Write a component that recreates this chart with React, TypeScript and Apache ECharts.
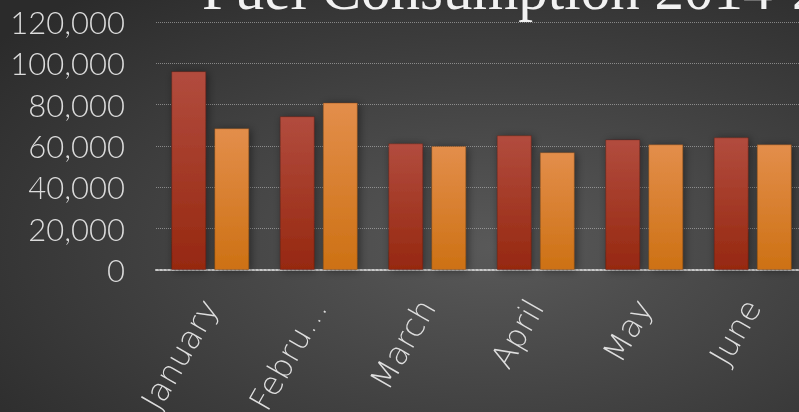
import React, { useEffect, useRef } from "react";
import * as echarts from "echarts";

const months = ["January", "February", "March", "April", "May", "June"];
const series2014 = [96200, 74400, 61300, 65200, 63200, 64200];
const series2015 = [68600, 81000, 60000, 57000, 60800, 60800];
const yTicks = { min: 0, max: 120000, interval: 20000 };
const titleText = "Fuel Consumption 2014-2015";

export default function App() {
  const ref = useRef<HTMLDivElement>(null);
  useEffect(() => {
    if (!ref.current) return;
    const chart = echarts.init(ref.current, undefined, { renderer: "svg" });
    const grad = (top: string, bottom: string) =>
      new echarts.graphic.LinearGradient(0, 0, 0, 1, [
        { offset: 0, color: top },
        { offset: 1, color: bottom },
      ]);
    chart.setOption({
      animation: false,
      backgroundColor: {
        type: "radial",
        x: 0.62,
        y: 0.6,
        r: 0.8,
        colorStops: [
          { offset: 0, color: "#595959" },
          { offset: 1, color: "#2b2b2b" },
        ],
      },
      title: {
        text: titleText,
        left: 197,
        top: -46,
        textStyle: {
          fontFamily: "Liberation Serif",
          fontSize: 59,
          fontWeight: "normal",
          color: "#f2f2f2",
        },
      },
      grid: {
        left: 156,
        width: 651,
        top: 22,
        bottom: 142,
        containLabel: false,
        outerBoundsMode: "none",
      },
      xAxis: {
        type: "category",
        data: months,
        axisTick: { show: false },
        axisLine: {
          show: true,
          lineStyle: { color: "#c8c8c8", width: 2, type: "dotted" },
        },
        axisLabel: {
          rotate: 60,
          margin: 32,
          verticalAlign: "middle",
          align: "right",
          fontFamily: "DejaVu Sans",
          fontWeight: 200,
          fontSize: 32,
          color: "#dedede",
          width: 130,
          overflow: "truncate",
          ellipsis: "…",
          interval: 0,
        },
      },
      yAxis: {
        type: "value",
        min: yTicks.min,
        max: yTicks.max,
        interval: yTicks.interval,
        axisLine: { show: false },
        axisTick: { show: false },
        axisLabel: {
          margin: 31,
          fontFamily: "Lato",
          fontWeight: 300,
          fontSize: 31,
          color: "#dcdcdc",
          formatter: (v: number) => v.toLocaleString("en-US"),
        },
        splitLine: {
          lineStyle: { color: "rgba(200,200,200,0.55)", type: "dotted", width: 1 },
        },
      },
      series: [
        {
          name: "2014",
          type: "bar",
          data: series2014,
          barWidth: 35,
          barGap: "23%",
          itemStyle: {
            color: grad("#b24c3e", "#962810"),
            borderColor: "rgba(90,20,10,0.35)",
            borderWidth: 1,
            shadowBlur: 8,
            shadowColor: "rgba(0,0,0,0.45)",
            shadowOffsetX: 2,
            shadowOffsetY: 1,
          },
        },
        {
          name: "2015",
          type: "bar",
          data: series2015,
          barWidth: 35,
          barGap: "23%",
          itemStyle: {
            color: grad("#e38e4b", "#cd7114"),
            borderColor: "rgba(120,60,10,0.35)",
            borderWidth: 1,
            shadowBlur: 8,
            shadowColor: "rgba(0,0,0,0.45)",
            shadowOffsetX: 2,
            shadowOffsetY: 1,
          },
        },
      ],
    });
    return () => chart.dispose();
  }, []);
  return (
    <div
      ref={ref}
      style={{ position: "fixed", left: 0, top: 0, width: 799, height: 412 }}
    />
  );
}
